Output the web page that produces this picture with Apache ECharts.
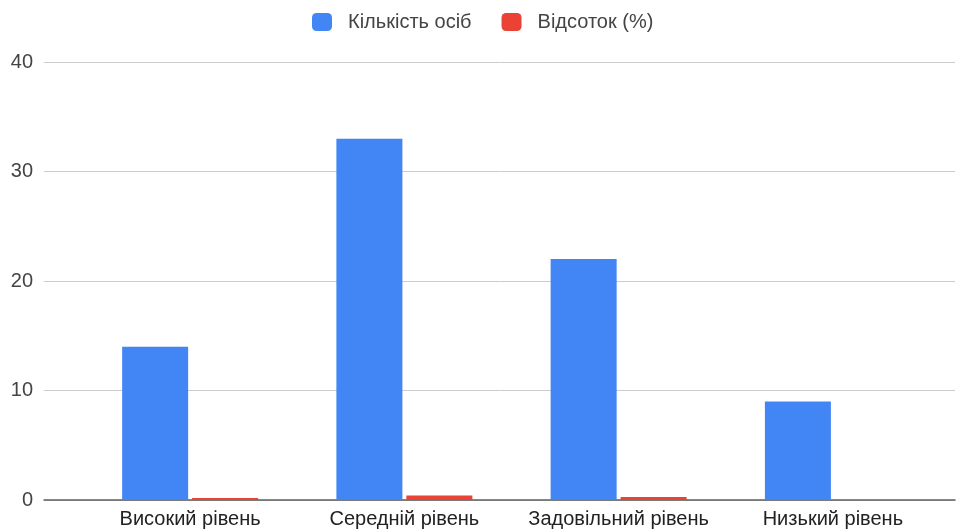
<!DOCTYPE html>
<html>
<head>
<meta charset="utf-8">
<script src="https://cdn.jsdelivr.net/npm/echarts@6/dist/echarts.min.js"></script>
<style>
  html, body { margin: 0; padding: 0; background: #fff; }
  #chart { width: 969px; height: 530px; }
</style>
</head>
<body>
<div id="chart"></div>
<script>
// Рівні та значення
const categories = ['Високий рівень', 'Середній рівень', 'Задовільний рівень', 'Низький рівень'];
const countValues = [14, 33, 22, 9];
const percentValues = [0.18, 0.42, 0.28, null];
const seriesNames = ['Кількість осіб', 'Відсоток (%)'];
const yTicks = { min: 0, max: 40, interval: 10 };

const FONT = '"Liberation Sans", Arial, sans-serif';
const chart = echarts.init(document.getElementById('chart'), null, { renderer: 'canvas' });

chart.setOption({
  animation: false,
  color: ['#4285f4', '#ea4335'],
  legend: {
    top: 7,
    left: 307,
    itemWidth: 20,
    itemHeight: 18,
    itemGap: 30,
    icon: 'roundRect',
    textStyle: { fontFamily: FONT, fontSize: 20, color: '#444', padding: [0, 0, 0, 11] },
    data: seriesNames
  },
  grid: [
    // full-width grid carrying the value axis, gridlines and baseline
    { left: 44, right: 14, top: 62, bottom: 30, containLabel: false },
    // grid holding the bars and category labels
    { left: 83, right: 29, top: 62, bottom: 30, containLabel: false }
  ],
  xAxis: [
    {
      gridIndex: 0, type: 'category', data: [''],
      axisLine: { show: true, lineStyle: { color: '#5f5f5f', width: 1.5 } },
      axisTick: { show: false }, axisLabel: { show: false }, splitLine: { show: false }
    },
    {
      gridIndex: 1, type: 'category', data: categories,
      axisLine: { show: false }, axisTick: { show: false },
      axisLabel: { fontFamily: FONT, fontSize: 20, color: '#222', margin: 9, interval: 0 }
    }
  ],
  yAxis: [
    {
      gridIndex: 0, type: 'value', min: yTicks.min, max: yTicks.max, interval: yTicks.interval,
      axisLine: { show: false }, axisTick: { show: false },
      axisLabel: { fontFamily: FONT, fontSize: 20, color: '#444', margin: 11 },
      splitLine: { lineStyle: { color: '#cccccc', width: 1 } }
    },
    {
      gridIndex: 1, type: 'value', min: yTicks.min, max: yTicks.max, interval: yTicks.interval,
      show: false, splitLine: { show: false }
    }
  ],
  series: [
    {
      name: seriesNames[0], type: 'bar', xAxisIndex: 1, yAxisIndex: 1,
      data: countValues, barWidth: 66, barGap: '6%'
    },
    {
      name: seriesNames[1], type: 'bar', xAxisIndex: 1, yAxisIndex: 1,
      data: percentValues, barWidth: 66, barGap: '6%'
    }
  ]
});
</script>
</body>
</html>
